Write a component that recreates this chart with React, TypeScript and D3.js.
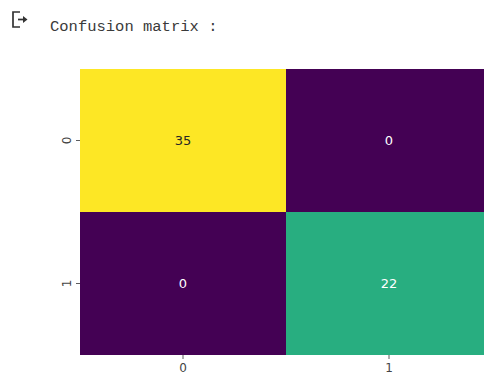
import React from "react";
import * as d3 from "d3";

const rowLabels = ["0", "1"];
const colLabels = ["0", "1"];
const matrix = [
  [35, 0],
  [0, 22],
];
const title = "Confusion matrix :";

export default function App() {
  const W = 484, H = 378;
  const x0 = 80, x1 = 492, y0 = 69, y1 = 355;
  const x = d3.scaleBand().domain(colLabels).range([x0, x1]);
  const y = d3.scaleBand().domain(rowLabels).range([y0, y1]);
  const vmax = d3.max(matrix.flat()) as number;
  const vmin = d3.min(matrix.flat()) as number;
  const color = d3.scaleSequential(d3.interpolateViridis).domain([vmin, vmax]);
  const cells = matrix.flatMap((row, i) => row.map((v, j) => ({ v, r: rowLabels[i], c: colLabels[j] })));
  const textColor = (v: number) => {
    const c = d3.rgb(color(v));
    const lum = 0.299 * c.r + 0.587 * c.g + 0.114 * c.b;
    return lum > 140 ? "#262626" : "#ffffff";
  };
  return (
    <svg width={W} height={H} style={{ position: "absolute", left: 0, top: 0, background: "#fff" }}>
      {/* output icon */}
      <g stroke="#333" fill="none" strokeWidth={1.7}>
        <path d="M20 12 H13 V27 H20" />
        <path d="M18 19.5 H24" />
      </g>
      <path d="M23 16 L27.5 19.5 L23 23 Z" fill="#333" />
      <text x={50} y={31} fontFamily="'Liberation Mono', monospace" fontSize={15.5} fill="#3a3a3a">{title}</text>
      {cells.map((d, k) => (
        <rect key={k} x={x(d.c)} y={y(d.r)} width={x.bandwidth()} height={y.bandwidth()} fill={color(d.v)} />
      ))}
      {cells.map((d, k) => (
        <text key={"t" + k} x={(x(d.c) as number) + x.bandwidth() / 2} y={(y(d.r) as number) + y.bandwidth() / 2}
          textAnchor="middle" dominantBaseline="central" fontFamily="'DejaVu Sans', sans-serif" fontSize={13}
          fill={textColor(d.v)}>{d.v}</text>
      ))}
      {colLabels.map((c) => {
        const cx = (x(c) as number) + x.bandwidth() / 2;
        return (
          <g key={"x" + c}>
            <line x1={cx} x2={cx} y1={y1} y2={y1 + 4} stroke="#333" strokeWidth={0.8} />
            <text x={cx} y={y1 + 17} textAnchor="middle" fontFamily="'DejaVu Sans', sans-serif" fontSize={12} fill="#444">{c}</text>
          </g>
        );
      })}
      {rowLabels.map((r) => {
        const cy = (y(r) as number) + y.bandwidth() / 2;
        return (
          <g key={"y" + r}>
            <line x1={x0 - 4} x2={x0} y1={cy} y2={cy} stroke="#333" strokeWidth={0.8} />
            <text transform={`translate(${x0 - 9},${cy}) rotate(-90)`} textAnchor="middle" fontFamily="'DejaVu Sans', sans-serif" fontSize={12} fill="#444">{r}</text>
          </g>
        );
      })}
    </svg>
  );
}
